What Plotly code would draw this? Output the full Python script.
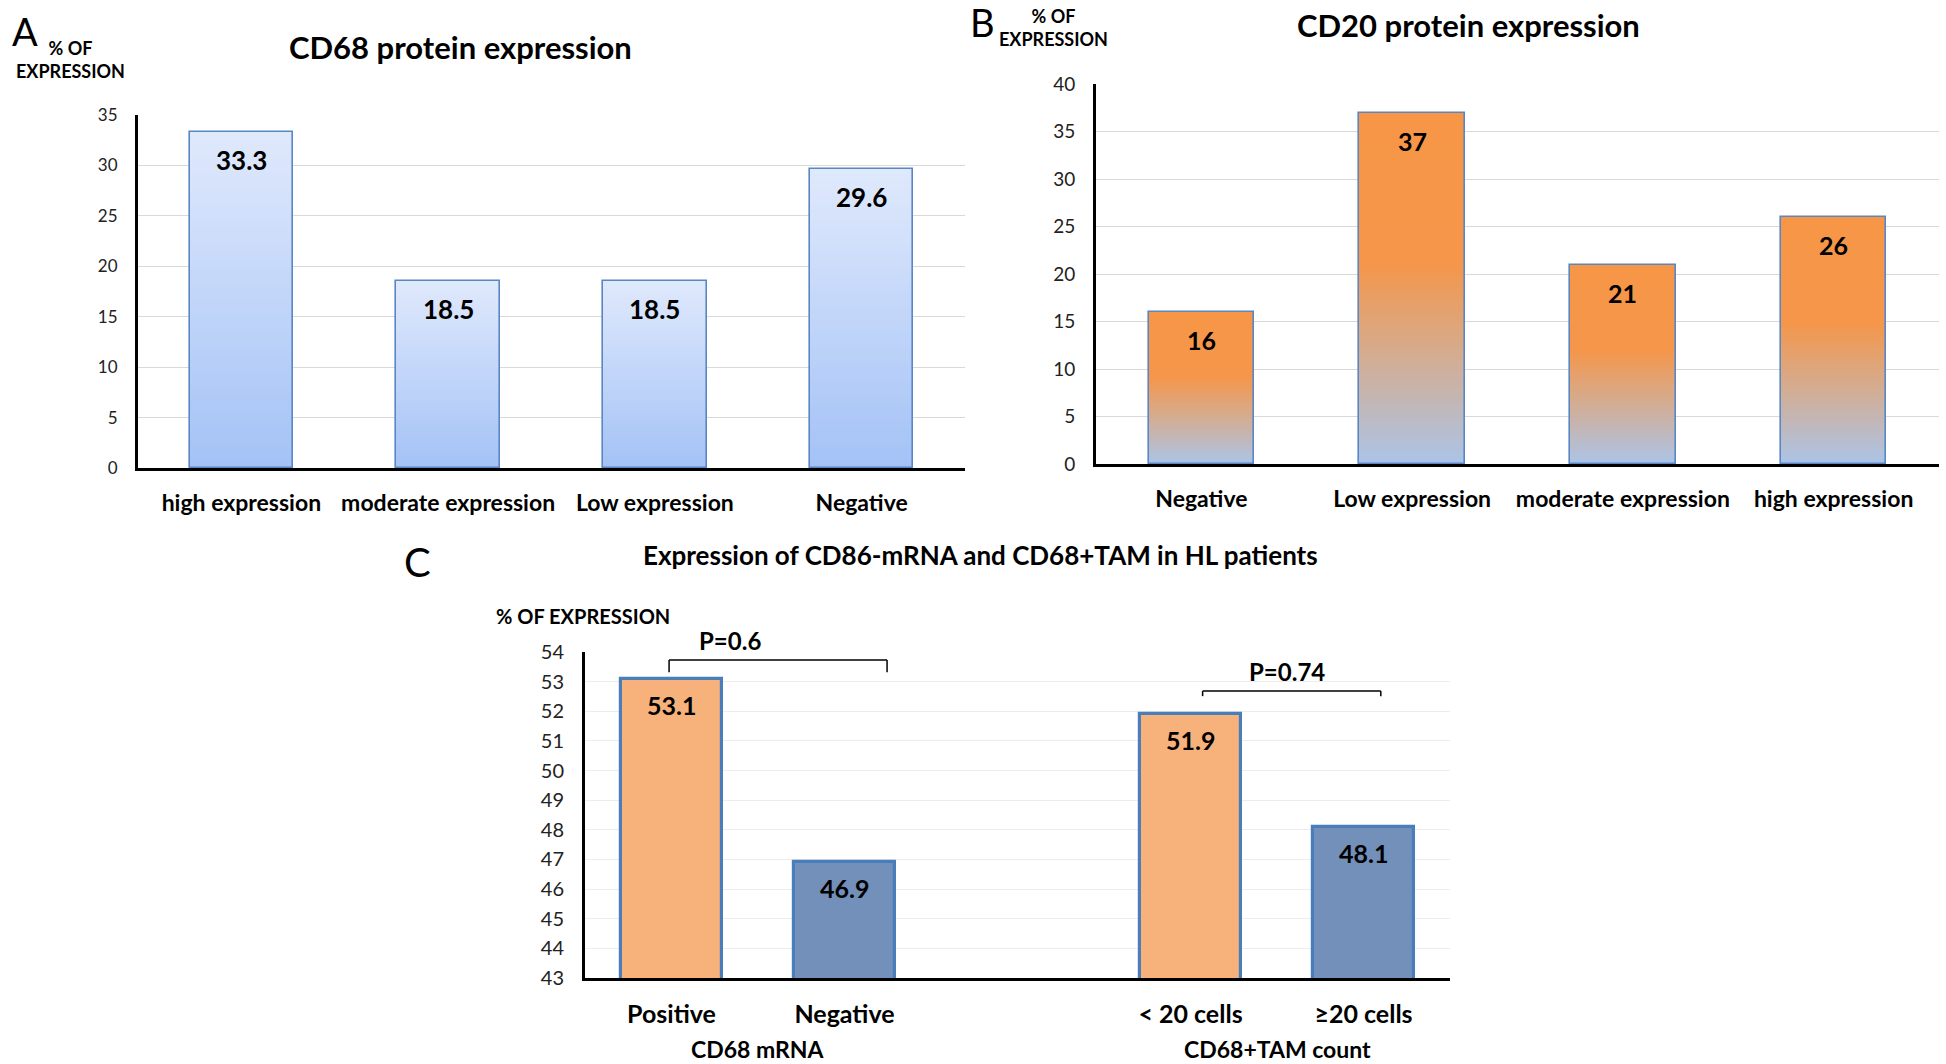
import plotly.graph_objects as go

# ---------------- data ----------------
a_categories = ["high expression", "moderate expression", "Low expression", "Negative"]
a_values = [33.3, 18.5, 18.5, 29.6]

b_categories = ["Negative", "Low expression", "moderate expression", "high expression"]
b_values = [16, 37, 21, 26]

c_categories = ["Positive", "Negative", " ", "< 20 cells", "≥20 cells"]
c_values = [53.1, 46.9, None, 51.9, 48.1]
c_colors = ["#F7B27C", "#7290BA", "#FFFFFF", "#F7B27C", "#7290BA"]
c_groups = ["CD68 mRNA", "CD68+TAM count"]
c_pvalues = ["P=0.6", "P=0.74"]

W, H = 1946, 1064
FONT = "Lato"

def px_x(x):
    return min(max(x / W, 0), 1)

def px_y(y):
    return min(max(1 - y / H, 0), 1)

def hex2rgb(h):
    h = h.lstrip("#")
    return tuple(int(h[i:i + 2], 16) for i in (0, 2, 4))

def interp(stops, t):
    for (t0, c0), (t1, c1) in zip(stops[:-1], stops[1:]):
        if t0 <= t <= t1:
            f = 0 if t1 == t0 else (t - t0) / (t1 - t0)
            a, b = hex2rgb(c0), hex2rgb(c1)
            r = [round(a[i] + (b[i] - a[i]) * f) for i in range(3)]
            return "rgb(%d,%d,%d)" % tuple(r)
    return stops[-1][1]

fig = go.Figure()

def gradient_bars(cats, vals, stops, xa, ya, outline, width=0.5, n=60):
    for k in range(n):
        t = (k + 0.5) / n
        col = interp(stops, t)
        base = [v * k / n for v in vals]
        hgt = [v / n * (1.4 if k < n - 1 else 1.0) for v in vals]
        fig.add_trace(go.Bar(x=cats, y=hgt, base=base, width=width,
                             marker=dict(color=col, line=dict(width=0)),
                             xaxis=xa, yaxis=ya, showlegend=False, hoverinfo="skip"))
    fig.add_trace(go.Bar(x=cats, y=vals, width=width,
                         marker=dict(color="rgba(0,0,0,0)", line=dict(color=outline, width=1.6)),
                         xaxis=xa, yaxis=ya, showlegend=False))

# Panel A
a_stops = [(0.0, "#A4C2F6"), (1.0, "#DFE9FC")]
gradient_bars(a_categories, a_values, a_stops, "x", "y", "#5A86C3")
# Panel B
b_stops = [(0.0, "#ABC4E8"), (0.3, "#D3AD93"), (0.57, "#F5964B"), (1.0, "#F79646")]
gradient_bars(b_categories, b_values, b_stops, "x2", "y2", "#5A86C3")
# Panel C
fig.add_trace(go.Bar(x=c_categories, y=c_values, width=0.58,
                     marker=dict(color=c_colors, line=dict(color="#4A7EBB", width=3.2)),
                     xaxis="x3", yaxis="y3", showlegend=False))

annots = []
def lab(cats, vals, xa, ya, size, shift):
    for c, v in zip(cats, vals):
        if v is None:
            continue
        annots.append(dict(x=c, y=v, xref=xa, yref=ya, text=("%g" % v), showarrow=False,
                           yshift=shift, font=dict(family=FONT, size=size, color="black", weight="bold")))

lab(a_categories, a_values, "x", "y", 26, -28)
lab(b_categories, b_values, "x2", "y2", 25, -28)
lab(c_categories, c_values, "x3", "y3", 25, -26)

def text(x, y, s, size, bold=True, xanchor="center", align="center"):
    annots.append(dict(x=px_x(x), y=px_y(y), xref="paper", yref="paper", text=s, showarrow=False,
                       xanchor=xanchor, yanchor="middle", align=align,
                       font=dict(family=FONT, size=size, color="black", weight="bold" if bold else "normal")))

text(10, 31, "A", 38, bold=False, xanchor="left")
text(70, 60, "% OF<br>EXPRESSION", 18)
text(460, 47, "CD68 protein expression", 31)
text(968, 22, "B", 38, bold=False, xanchor="left")
text(1053, 28, "% OF<br>EXPRESSION", 18)
text(1468, 25, "CD20 protein expression", 31)
text(402, 562, "C", 40, bold=False, xanchor="left")
text(980, 555, "Expression of CD86-mRNA and CD68+TAM in HL patients", 26)
text(494, 616, "% OF EXPRESSION", 20, xanchor="left")

# group labels under panel C
for gx, g in zip([0.5, 3.5], c_groups):
    annots.append(dict(x=gx, y=px_y(1049), xref="x3", yref="paper", text=g, showarrow=False,
                       yanchor="middle",
                       font=dict(family=FONT, size=23, color="black", weight="bold")))

# p-values and brackets
brackets = [(-0.014, 1.246, 53.73, 53.32, 0.338, 641), (3.07, 4.10, 52.68, 52.51, 3.56, 671)]
shapes = []
for (x0, x1, yt, yl, tx, ty), p in zip(brackets, c_pvalues):
    for (xa0, ya0, xa1, ya1) in [(x0, yl, x0, yt), (x0, yt, x1, yt), (x1, yt, x1, yl)]:
        shapes.append(dict(type="line", xref="x3", yref="y3", x0=xa0, y0=ya0, x1=xa1, y1=ya1,
                           line=dict(color="black", width=1.5)))
    annots.append(dict(x=tx, y=px_y(ty), xref="x3", yref="paper", text=p, showarrow=False,
                       yanchor="middle",
                       font=dict(family=FONT, size=24, color="black", weight="bold")))

def xax(dom, size, anchor):
    return dict(domain=dom, anchor=anchor, type="category", showline=True, linecolor="black", linewidth=3,
                showgrid=False, ticks="", tickfont=dict(family=FONT, size=size, color="black", weight="bold"),
                ticklabelstandoff=12, fixedrange=True, automargin=False)

def yax(dom, rng, dtick, size, anchor, grid):
    return dict(domain=dom, anchor=anchor, range=rng, dtick=dtick, showline=True, linecolor="black",
                linewidth=3, showgrid=True, gridcolor=grid, gridwidth=1.2, zeroline=False, ticks="",
                tickfont=dict(family=FONT, size=size, color="#222"), ticklabelstandoff=14, fixedrange=True,
                automargin=False)

fig.update_layout(
    width=W, height=H, margin=dict(l=0, r=0, t=0, b=0, autoexpand=False),
    paper_bgcolor="white", plot_bgcolor="white", barmode="overlay", bargap=0,
    xaxis=xax([px_x(138), px_x(965)], 23, "y"),
    yaxis=yax([px_y(468), px_y(115)], [0, 35], 5, 17, "x", "#D9D9D9"),
    xaxis2=xax([px_x(1096), px_x(1939)], 23, "y2"),
    yaxis2=yax([px_y(464), px_y(84)], [0, 40], 5, 19, "x2", "#D9D9D9"),
    xaxis3=xax([px_x(585), px_x(1450)], 25, "y3"),
    yaxis3=yax([px_y(978), px_y(652)], [43, 54], 1, 20, "x3", "#EDEDED"),
    annotations=annots, shapes=shapes,
)

fig.write_html("out.html", config={"displayModeBar": False},
               post_script="document.body.style.margin='0';document.body.style.overflow='hidden';")
